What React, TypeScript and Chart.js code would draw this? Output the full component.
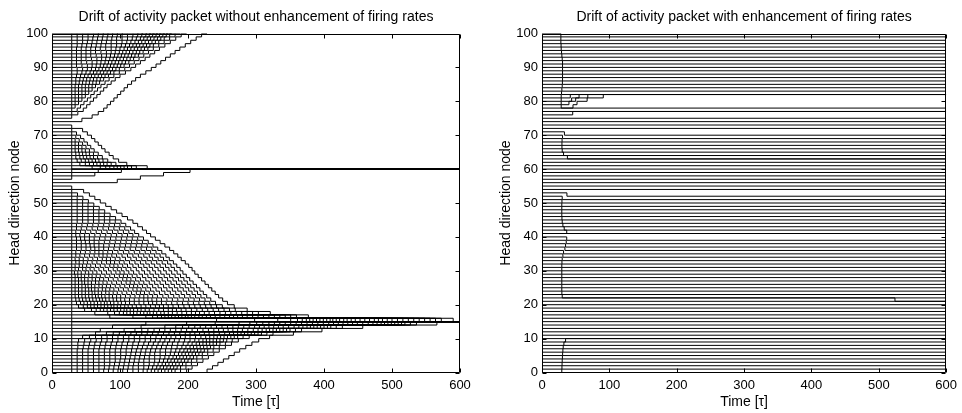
import React, { useEffect, useRef } from 'react';
import { Chart, registerables } from 'chart.js';

Chart.register(...registerables);

const FONT = "'Liberation Sans', Arial, Helvetica, sans-serif";
Chart.defaults.font.family = FONT;

const leftTitle = 'Drift of activity packet without enhancement of firing rates';
const rightTitle = 'Drift of activity packet with enhancement of firing rates';
const xLabel = 'Time [τ]';
const yLabel = 'Head direction node';

const xTicks = [0, 100, 200, 300, 400, 500, 600];
const yTicks = [0, 10, 20, 30, 40, 50, 60, 70, 80, 90, 100];
const tEnd = 600;
const stimulusOff = 29; // time at which the initial cue is removed
const ringSize = 100; // node 100 is the same node as node 0

// ---- Left panel: outermost trajectory of each drift branch (arrival time at each node) ----
// Branch A: from unstable node 74 up through 100, wrapping to 0 and settling at 15 (nodes 74..115 unwrapped)
const wrapFrom = 74;
const wrapArrival = [
  0, 44, 59, 68, 76, 81, 86, 91, 96, 101, 106, 111, 117, 123, 130, 138, 146, 153, 160, 167, 174, 181, 188, 196, 204, 212, 220,
  228, 236, 244, 252, 260, 268, 276, 285, 294, 304, 320, 355, 397, 457, 566,
];
// Branch B: from node 55 down to attractor 15
const lowFrom = 55;
const lowArrival = [
  0, 29, 46.5, 55, 63, 71, 79, 87, 95, 103, 111, 119, 126, 133, 139, 145, 152, 159, 166, 173, 179, 185, 190, 196, 201, 206, 210,
  215, 220, 225, 230, 235, 240, 245, 251, 258, 268, 287, 321, 377, 590,
];
// Branch C: from unstable node 56 up to attractor 60
const riseFrom = 56;
const riseArrival = [0, 96, 130, 164, 203];
// Branch D: from node 73 down to attractor 60
const fallFrom = 73;
const fallArrival = [0, 29, 45, 52, 58, 63, 68, 73, 78, 84, 90, 98, 110, 140];
const leftAttractors = [15, 60];

// ---- Right panel: first step of each start node (0..100) ----
const rightStepDir = [
  1, 1, 1, 1, 1, 1, 1, 1, 1, 1, // 0-9
  0, 0, 0, 0, 0, 0, 0, 0, 0, 0, // 10-19
  0, 0, 0, 0, -1, -1, -1, -1, -1, -1, // 20-29
  -1, -1, -1, -1, -1, -1, -1, -1, -1, -1, // 30-39
  -1, 0, -1, -1, -1, -1, -1, -1, -1, -1, // 40-49
  -1, -1, -1, -1, 0, 0, 0, 0, 0, 0, // 50-59
  0, 0, 0, 0, -1, -1, -1, -1, -1, -1, // 60-69
  -1, -1, 0, 0, 0, 0, 1, 0, 0, 0, // 70-79
  0, 0, 0, -1, -1, -1, -1, -1, -1, -1, // 80-89
  -1, -1, -1, -1, -1, -1, -1, -1, -1, -1, // 90-99
  -1, // 100
];
const rightStepTime = [
  29.4, 29.6, 29.8, 30, 30.3, 30.6, 31, 31.5, 32.5, 35,
  0, 0, 0, 0, 0, 0, 0, 0, 0, 0,
  0, 0, 0, 0, 29.5, 29.4, 29.4, 29.4, 29.4, 29.4,
  29.4, 29.4, 29.4, 29.6, 30, 31, 32, 34, 35, 36,
  36.7, 0, 36.7, 33, 31, 30, 29.6, 29.4, 29.4, 29.4,
  29.4, 29.6, 30, 37, 0, 0, 0, 0, 0, 0,
  0, 0, 0, 0, 37.7, 32, 30, 29.6, 29.6, 29.8,
  30.5, 33.3, 0, 0, 0, 0, 45.6, 0, 0, 0,
  0, 0, 0, 29, 29.5, 30, 30.3, 30.5, 30.5, 30.5,
  30.5, 30.5, 30.5, 30, 29.5, 29, 28.5, 28.3, 28, 28,
  28,
];
// Start nodes whose path has several steps: [time, node] after the start
const rightMultiStep: Record<number, [number, number][]> = {
  23: [[30, 22], [524, 21]],
  79: [[28.5, 78], [46, 79], [52, 80], [67, 81], [91, 82]],
  80: [[28.5, 79], [40, 80], [50, 81], [68, 82]],
  81: [[28.5, 80], [44, 81], [55, 82]],
  82: [[28.5, 81], [42, 82]],
};

type Pt = { x: number; y: number };
type Change = [number, number];

function flowChanges(from: number, dir: number, arrival: number[], refJumps: boolean, k: number): Change[] {
  const node = (i: number) => from + dir * i;
  if (k === 0 && !refJumps) return arrival.map((t, i) => [t, node(i)] as Change);
  const j = k + 1;
  const out: Change[] = [[0, node(k)], [stimulusOff, node(j)]];
  for (let i = j + 1; i < arrival.length; i++) out.push([stimulusOff + arrival[i] - arrival[j], node(i)]);
  return out;
}

function toLines(ch: Change[], wrap: boolean): Pt[][] {
  const segs = ch.map((c, i) => ({ a: c[0], b: i + 1 < ch.length ? ch[i + 1][0] : tEnd, u: c[1] }));
  const groups: { a: number; b: number; y: number }[][] = [[], []];
  for (const s of segs) {
    if (!wrap) {
      groups[0].push({ a: s.a, b: s.b, y: s.u });
      continue;
    }
    if (s.u <= ringSize) groups[0].push({ a: s.a, b: s.b, y: s.u });
    if (s.u >= ringSize) groups[1].push({ a: s.a, b: s.b, y: s.u - ringSize });
  }
  return groups
    .filter((g) => g.length > 0)
    .map((g) => {
      const pts = g.map((s) => ({ x: s.a, y: s.y }));
      const last = g[g.length - 1];
      pts.push({ x: last.b, y: last.y });
      return pts;
    });
}

function leftLines(): Pt[][] {
  const lines: Pt[][] = [];
  for (let k = 0; k < wrapArrival.length - 1; k++) lines.push(...toLines(flowChanges(wrapFrom, 1, wrapArrival, false, k), true));
  for (let k = 0; k < lowArrival.length - 1; k++) lines.push(...toLines(flowChanges(lowFrom, -1, lowArrival, true, k), false));
  for (let k = 0; k < riseArrival.length - 1; k++) lines.push(...toLines(flowChanges(riseFrom, 1, riseArrival, false, k), false));
  for (let k = 0; k < fallArrival.length - 1; k++) lines.push(...toLines(flowChanges(fallFrom, -1, fallArrival, true, k), false));
  for (const n of leftAttractors) lines.push(...toLines([[0, n]], false));
  return lines;
}

function rightLines(): Pt[][] {
  const lines: Pt[][] = [];
  for (let s = 0; s < rightStepDir.length; s++) {
    let ch: Change[] = [[0, s]];
    if (rightMultiStep[s]) ch = ch.concat(rightMultiStep[s]);
    else if (rightStepDir[s] !== 0) ch.push([rightStepTime[s], s + rightStepDir[s]]);
    lines.push(...toLines(ch, false));
  }
  return lines;
}

const boxTicks = {
  id: 'boxTicks',
  afterDatasetsDraw(chart: any) {
    const { ctx, chartArea: a, scales } = chart;
    const x = scales.x;
    const y = scales.y;
    const L = Math.round(a.left) + 0.5;
    const R = Math.round(a.right) - 0.5;
    const T = Math.round(a.top) + 0.5;
    const B = Math.round(a.bottom) - 0.5;
    ctx.save();
    ctx.strokeStyle = '#000';
    ctx.lineWidth = 1;
    ctx.beginPath();
    ctx.rect(L, T, R - L, B - T);
    for (const v of xTicks) {
      const px = Math.round(x.getPixelForValue(v)) + 0.5;
      ctx.moveTo(px, B);
      ctx.lineTo(px, B - 4);
      ctx.moveTo(px, T);
      ctx.lineTo(px, T + 4);
    }
    for (const v of yTicks) {
      const py = Math.round(y.getPixelForValue(v)) + 0.5;
      ctx.moveTo(L, py);
      ctx.lineTo(L + 4, py);
      ctx.moveTo(R, py);
      ctx.lineTo(R - 4, py);
    }
    ctx.stroke();
    ctx.restore();
  },
};

function makeConfig(lines: Pt[][], title: string, axisWidth: number, rightPad: number, yTitleGap: number): any {
  const tickFont = { family: FONT, size: 13 };
  const labelFont = { family: FONT, size: 14 };
  return {
    type: 'line',
    data: {
      datasets: lines.map((pts) => ({
        data: pts,
        borderColor: '#000',
        backgroundColor: '#000',
        borderWidth: 1,
        stepped: true,
        pointRadius: 0,
        fill: false,
      })),
    },
    options: {
      animation: false,
      responsive: false,
      events: [],
      layout: { padding: { left: 0, right: rightPad, top: 0, bottom: 0 } },
      elements: { point: { radius: 0 }, line: { borderCapStyle: 'butt', borderJoinStyle: 'miter', tension: 0 } },
      plugins: {
        legend: { display: false },
        tooltip: { enabled: false },
        title: {
          display: true,
          text: title,
          color: '#000',
          fullSize: false,
          font: { family: FONT, size: 14, weight: 'normal' },
          padding: { top: 8.6, bottom: 8.1 },
        },
      },
      scales: {
        x: {
          type: 'linear',
          min: 0,
          max: 600,
          afterFit: (s: any) => {
            s.height = 40.5;
          },
          afterBuildTicks: (s: any) => {
            s.ticks = xTicks.map((v) => ({ value: v }));
          },
          grid: { display: false, drawTicks: false },
          border: { display: false },
          ticks: { color: '#000', font: tickFont, padding: 5, maxRotation: 0, autoSkip: false },
          title: { display: true, text: xLabel, color: '#000', font: labelFont, padding: { top: 0, bottom: 2.6 } },
        },
        y: {
          type: 'linear',
          min: 0,
          max: 100,
          afterFit: (s: any) => {
            s.width = axisWidth;
          },
          afterBuildTicks: (s: any) => {
            s.ticks = yTicks.map((v) => ({ value: v }));
          },
          grid: { display: false, drawTicks: false },
          border: { display: false },
          ticks: { color: '#000', font: tickFont, padding: 4, autoSkip: false },
          title: { display: true, text: yLabel, color: '#000', font: labelFont, padding: { top: yTitleGap, bottom: 0 } },
        },
      },
    },
    plugins: [boxTicks],
  };
}

function Panel({ which }: { which: 'left' | 'right' }) {
  const ref = useRef<HTMLCanvasElement | null>(null);
  useEffect(() => {
    if (!ref.current) return;
    const cfg =
      which === 'left'
        ? makeConfig(leftLines(), leftTitle, 52, 21, 6.6)
        : makeConfig(rightLines(), rightTitle, 61, 12.7, 17.1);
    const chart = new Chart(ref.current, cfg);
    return () => chart.destroy();
  }, [which]);
  return <canvas ref={ref} width={481} height={413} style={{ display: 'block', width: 481, height: 413 }} />;
}

export default function App() {
  return (
    <div style={{ position: 'absolute', left: 0, top: 0, width: 962, height: 413, display: 'flex', background: '#fff' }}>
      <Panel which="left" />
      <Panel which="right" />
    </div>
  );
}
